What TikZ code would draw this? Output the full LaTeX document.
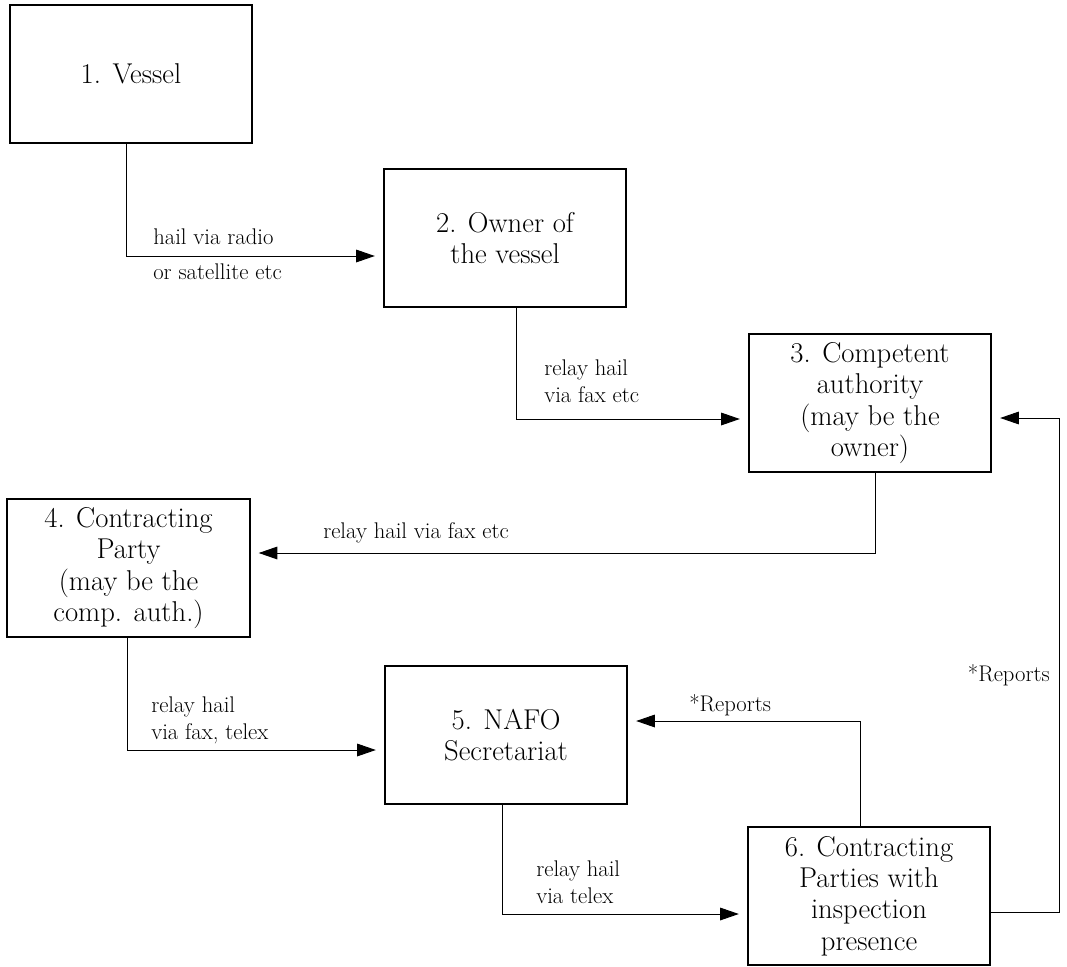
\documentclass[tikz,border=0pt]{standalone}
\usepackage{fontspec}
\usetikzlibrary{arrows.meta}
\begin{document}
\begin{tikzpicture}[x=0.75pt,y=-0.75pt,
  box/.style={draw,line width=1.3pt,minimum width=182pt,minimum height=104pt,inner sep=0pt,align=center,font=\fontsize{21.5}{23.5}\selectfont},
  conn/.style={line width=0.7pt,-{Triangle[length=14pt,width=9.5pt]},shorten >=6pt},
  lbl/.style={anchor=west,inner sep=0pt,align=left,font=\fontsize{17}{20}\selectfont}]
\useasboundingbox (0,0) rectangle (1067,967);
\node[box] (b1) at (131,74) {1. Vessel};
\node[box] (b2) at (505,238) {2. Owner of\\the vessel};
\node[box] (b3) at (870,403) {3. Competent\\authority\\(may be the\\owner)};
\node[box] (b4) at (128.5,568) {4. Contracting\\Party\\(may be the\\comp. auth.)};
\node[box] (b5) at (506,735) {5. NAFO\\Secretariat};
\node[box] (b6) at (869,896) {6. Contracting\\Parties with\\inspection\\presence};

\coordinate (k12) at (126,256);
\draw[conn] (b1.south -| k12) -- (k12) -- (b2.west |- k12);
\node[lbl] (l12a) at (153,237) {hail via radio};
\node[lbl] (l12b) at (153,272) {or satellite etc};

\coordinate (k23) at (516,419);
\draw[conn] (b2.south -| k23) -- (k23) -- (b3.west |- k23);
\node[lbl] (l23) at (544,381) {relay hail\\via fax etc};

\coordinate (k34) at (875,553);
\draw[conn] (b3.south -| k34) -- (k34) -- (b4.east |- k34);
\node[lbl] (l34) at (323,533) {relay hail via fax etc};

\coordinate (k45) at (127,750);
\draw[conn] (b4.south -| k45) -- (k45) -- (b5.west |- k45);
\node[lbl] (l45) at (151,720) {relay hail\\via fax, telex};

\coordinate (k56) at (502,914);
\draw[conn] (b5.south -| k56) -- (k56) -- (b6.west |- k56);
\node[lbl] (l56) at (536,882) {relay hail\\via telex};

\coordinate (k65) at (860,721);
\draw[conn] (b6.north -| k65) -- (k65) -- (b5.east |- k65);
\node[lbl] (l65) at (689,705) {*Reports};

\coordinate (k63a) at (1059,912);
\coordinate (k63b) at (1059,418);
\draw[conn] (b6.east |- k63a) -- (k63a) -- (k63b) -- (b3.east |- k63b);
\node[lbl,anchor=east] (l63) at (1050,675) {*Reports};
\end{tikzpicture}
\end{document}
